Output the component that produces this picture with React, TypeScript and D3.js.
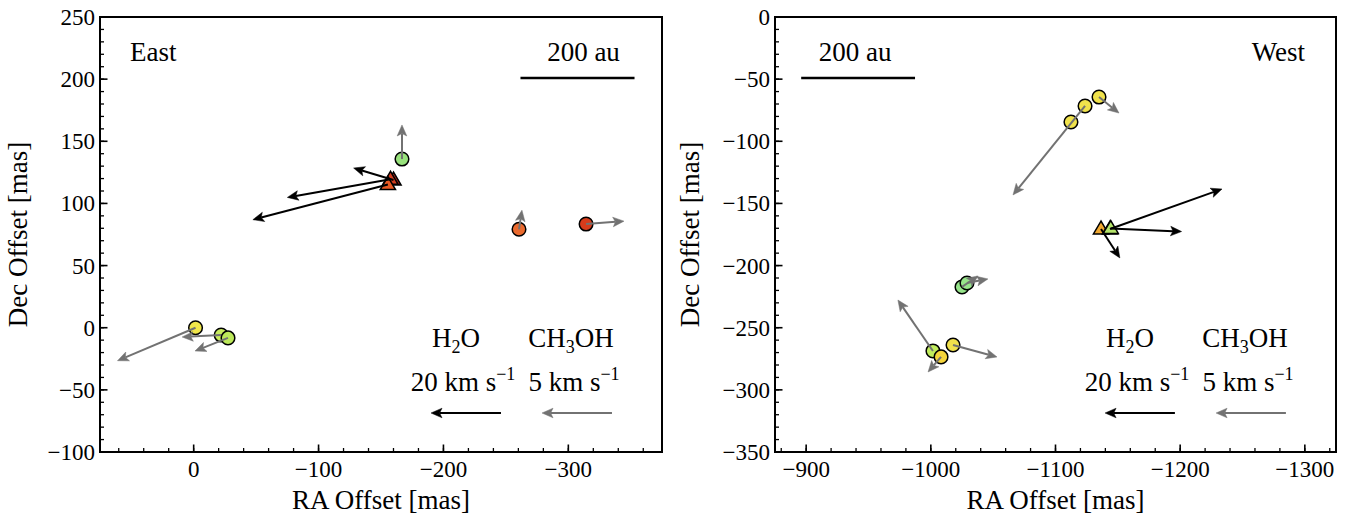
import React from 'react';
import * as d3 from 'd3';

const W = 1357;
const H = 519;

// ---------- DATA ----------
// East panel, CH3OH spots: [RA offset (mas), Dec offset (mas), vRA (km/s), vDec (km/s)]
const eastCH3OH: number[][] = [
  [-1.5, 0.0, 5.58, -2.37],
  [-22.0, -5.9, 2.79, -0.14],
  [-27.5, -8.2, 2.36, -0.94],
  [-166.8, 135.7, 0.0, 2.45],
  [-260.5, 79.2, -0.21, 1.37],
  [-314.2, 83.4, -2.71, 0.21],
];
const eastCH3OHColors = ['#f0e64a', '#c8ec5e', '#bce85a', '#98e27c', '#ea6a2e', '#d63c1c'];

// East panel, H2O spots: [RA, Dec, vRA, vDec]
const eastH2O: number[][] = [
  [-160.0, 118.8, 11.4, 3.45],
  [-157.6, 119.4, 29.5, -5.2],
  [-155.5, 115.2, 38.6, -10.1],
];
const eastH2OColors = ['#b8281a', '#d23c1e', '#e85a24'];

// West panel, CH3OH spots
const westCH3OH: number[][] = [
  [-1112.4, -84.5, 0.0, 0.0],
  [-1123.7, -71.6, 5.16, -6.39],
  [-1134.9, -64.4, -1.43, -1.15],
  [-1025.0, -217.2, -1.15, 0.79],
  [-1029.0, -214.0, -1.5, 0.29],
  [-1001.7, -268.7, 2.51, 3.66],
  [-1008.2, -273.5, 0.93, -1.08],
  [-1017.8, -263.9, -3.15, -0.86],
];
const westCH3OHColors = ['#f0e24c', '#f0e24c', '#f0e24c', '#96e48a', '#96e48a', '#c0ec5c', '#f4d43c', '#f0e04c'];

// West panel, H2O spots
const westH2O: number[][] = [
  [-1136.5, -170.6, -5.4, -8.3],
  [-1143.7, -170.6, -32.1, 11.5],
  [-1144.3, -170.2, -20.3, -0.86],
];
const westH2OColors = ['#f0a830', '#b4e46a', '#b4e46a'];

// axis domains and ticks
const eastX = [75, -375];
const eastY = [250, -100];
const westX = [-875, -1325];
const westY = [0, -350];
const eastXTicks = [0, -100, -200, -300];
const eastYTicks = [250, 200, 150, 100, 50, 0, -50, -100];
const westXTicks = [-900, -1000, -1100, -1200, -1300];
const westYTicks = [0, -50, -100, -150, -200, -250, -300, -350];

// velocity -> mas scale
const h2oRef = 20; // km/s
const ch3ohRef = 5; // km/s
const h2oMasPerKms = 2.8;
const ch3ohMasPerKms = 11.2;
// scale bar
const scaleBarAU = 200;
const distanceKpc = 2.19;

// ---------- STYLE ----------
const FONT = "'Liberation Serif', 'Times New Roman', Times, serif";
const GRAY = '#727272';

const fmt = (v: number) => (v < 0 ? '\u2212' + Math.abs(v) : String(v));

function Arrow({ x1, y1, x2, y2, color, width = 2 }: any) {
  const dx = x2 - x1;
  const dy = y2 - y1;
  const L = Math.hypot(dx, dy);
  if (L < 0.5) return null;
  const ux = dx / L;
  const uy = dy / L;
  const hl = Math.min(11, L);
  const hw = 4.8;
  const notch = hl * 0.78;
  const bx = x2 - ux * hl;
  const by = y2 - uy * hl;
  const nx = x2 - ux * notch;
  const ny = y2 - uy * notch;
  const px = -uy;
  const py = ux;
  const pts = [
    [x2, y2],
    [bx + px * hw, by + py * hw],
    [nx, ny],
    [bx - px * hw, by - py * hw],
  ];
  return (
    <g>
      <line x1={x1} y1={y1} x2={nx} y2={ny} stroke={color} strokeWidth={width} />
      <polygon points={pts.map((p) => p.join(',')).join(' ')} fill={color} stroke={color} strokeWidth={0.5} strokeLinejoin="miter" />
    </g>
  );
}

function Panel({ x0, x1, y0, y1, xDom, yDom, xTicks, yTicks, ch3oh, ch3ohCol, h2o, h2oCol, label, labelRight, barLeft, yLabelX }: any) {
  const xs = d3.scaleLinear().domain(xDom).range([x0, x1]);
  const ys = d3.scaleLinear().domain(yDom).range([y0, y1]);
  const xMinor = d3.range(Math.ceil(xDom[1] / 20), Math.floor(xDom[0] / 20) + 1).map((k) => k * 20);
  const yMinor = d3.range(Math.ceil(yDom[1] / 10), Math.floor(yDom[0] / 10) + 1).map((k) => k * 10);
  const fsTick = 23;
  const fs = 27;
  const fsSmall = 18;

  const barMas = scaleBarAU / distanceKpc;
  let barX1: number, barX2: number;
  if (barLeft) {
    barX1 = xDom[0] - 21;
    barX2 = barX1 - barMas;
  } else {
    barX2 = xDom[1] + 22;
    barX1 = barX2 + barMas;
  }
  const barY = yDom[0] - 49;
  const bxa = xs(barX1);
  const bxb = xs(barX2);

  const lenH2O = Math.abs(xs(h2oRef * h2oMasPerKms) - xs(0));
  const lenCH = Math.abs(xs(ch3ohRef * ch3ohMasPerKms) - xs(0));
  const legArrowY = y1 - 39;
  const tStyle = { fontFamily: FONT, fontSize: fs };

  return (
    <g style={tStyle}>
      {/* markers */}
      {ch3oh.map((d: number[], i: number) => (
        <circle key={'c' + i} cx={xs(d[0])} cy={ys(d[1])} r={6.8} fill={ch3ohCol[i]} stroke="#000" strokeWidth={1.5} />
      ))}
      {h2o.map((d: number[], i: number) => {
        const cx = xs(d[0]);
        const cy = ys(d[1]);
        const s = 8;
        return (
          <polygon
            key={'t' + i}
            points={`${cx},${cy - s} ${cx - s * 0.95},${cy + s * 0.62} ${cx + s * 0.95},${cy + s * 0.62}`}
            fill={h2oCol[i]}
            stroke="#000"
            strokeWidth={1.5}
            strokeLinejoin="miter"
          />
        );
      })}
      {/* arrows */}
      {ch3oh.map((d: number[], i: number) => (
        <Arrow key={'ca' + i} x1={xs(d[0])} y1={ys(d[1])} x2={xs(d[0] + d[2] * ch3ohMasPerKms)} y2={ys(d[1] + d[3] * ch3ohMasPerKms)} color={GRAY} />
      ))}
      {h2o.map((d: number[], i: number) => (
        <Arrow key={'ha' + i} x1={xs(d[0])} y1={ys(d[1])} x2={xs(d[0] + d[2] * h2oMasPerKms)} y2={ys(d[1] + d[3] * h2oMasPerKms)} color="#000" />
      ))}

      {/* frame */}
      <rect x={x0} y={y0} width={x1 - x0} height={y1 - y0} fill="none" stroke="#000" strokeWidth={2} />
      {/* ticks */}
      {xMinor.map((v: number) => (
        <line key={'xm' + v} x1={xs(v)} x2={xs(v)} y1={y1} y2={y1 - 4} stroke="#000" strokeWidth={1.3} />
      ))}
      {xTicks.map((v: number) => (
        <g key={'xt' + v}>
          <line x1={xs(v)} x2={xs(v)} y1={y1} y2={y1 - 7.5} stroke="#000" strokeWidth={1.6} />
          <text x={xs(v)} y={y1 + 25} textAnchor="middle" style={{ fontSize: fsTick }}>{fmt(v)}</text>
        </g>
      ))}
      {yMinor.map((v: number) => (
        <line key={'ym' + v} x1={x0} x2={x0 + 4} y1={ys(v)} y2={ys(v)} stroke="#000" strokeWidth={1.3} />
      ))}
      {yTicks.map((v: number) => (
        <g key={'yt' + v}>
          <line x1={x0} x2={x0 + 7.5} y1={ys(v)} y2={ys(v)} stroke="#000" strokeWidth={1.6} />
          <text x={x0 - 5} y={ys(v) + 8} textAnchor="end" style={{ fontSize: fsTick }}>{fmt(v)}</text>
        </g>
      ))}
      {/* axis labels */}
      <text x={(x0 + x1) / 2} y={y1 + 57} textAnchor="middle">RA Offset [mas]</text>
      <text transform={`translate(${yLabelX},${(y0 + y1) / 2}) rotate(-90)`} textAnchor="middle">Dec Offset [mas]</text>

      {/* region label */}
      <text x={labelRight ? x1 - 31 : x0 + 30} y={y0 + 44} textAnchor={labelRight ? 'end' : 'start'}>{label}</text>
      {/* scale bar */}
      <line x1={bxa} x2={bxb} y1={ys(barY)} y2={ys(barY)} stroke="#000" strokeWidth={2.5} />
      <text x={(bxa + bxb) / 2 + (barLeft ? -3 : 6)} y={y0 + 44} textAnchor="middle">200 au</text>

      {/* legend */}
      <text x={x1 - 206} y={y1 - 105} textAnchor="middle">
        H<tspan dy={6} style={{ fontSize: fsSmall }}>2</tspan><tspan dy={-6}>O</tspan>
      </text>
      <text x={x1 - 91} y={y1 - 105} textAnchor="middle">
        CH<tspan dy={6} style={{ fontSize: fsSmall }}>3</tspan><tspan dy={-6}>OH</tspan>
      </text>
      <text x={x1 - 199} y={y1 - 61} textAnchor="middle">
        {h2oRef} km s<tspan dy={-11} style={{ fontSize: fsSmall }}>{'\u22121'}</tspan>
      </text>
      <text x={x1 - 88} y={y1 - 61} textAnchor="middle">
        {ch3ohRef} km s<tspan dy={-11} style={{ fontSize: fsSmall }}>{'\u22121'}</tspan>
      </text>
      <Arrow x1={x1 - 196 + lenH2O / 2} y1={legArrowY} x2={x1 - 196 - lenH2O / 2} y2={legArrowY} color="#000" />
      <Arrow x1={x1 - 85 + lenCH / 2} y1={legArrowY} x2={x1 - 85 - lenCH / 2} y2={legArrowY} color={GRAY} />
    </g>
  );
}

export default function App() {
  return (
    <svg width={W} height={H} style={{ position: 'absolute', left: 0, top: 0, background: '#fff' }}>
      <rect x={0} y={0} width={W} height={H} fill="#fff" />
      <Panel
        x0={100} x1={662} y0={17} y1={452} yLabelX={27}
        xDom={eastX} yDom={eastY} xTicks={eastXTicks} yTicks={eastYTicks}
        ch3oh={eastCH3OH} ch3ohCol={eastCH3OHColors} h2o={eastH2O} h2oCol={eastH2OColors}
        label="East" labelRight={false} barLeft={false}
      />
      <Panel
        x0={775} x1={1336} y0={17} y1={452} yLabelX={699}
        xDom={westX} yDom={westY} xTicks={westXTicks} yTicks={westYTicks}
        ch3oh={westCH3OH} ch3ohCol={westCH3OHColors} h2o={westH2O} h2oCol={westH2OColors}
        label="West" labelRight={true} barLeft={true}
      />
    </svg>
  );
}
